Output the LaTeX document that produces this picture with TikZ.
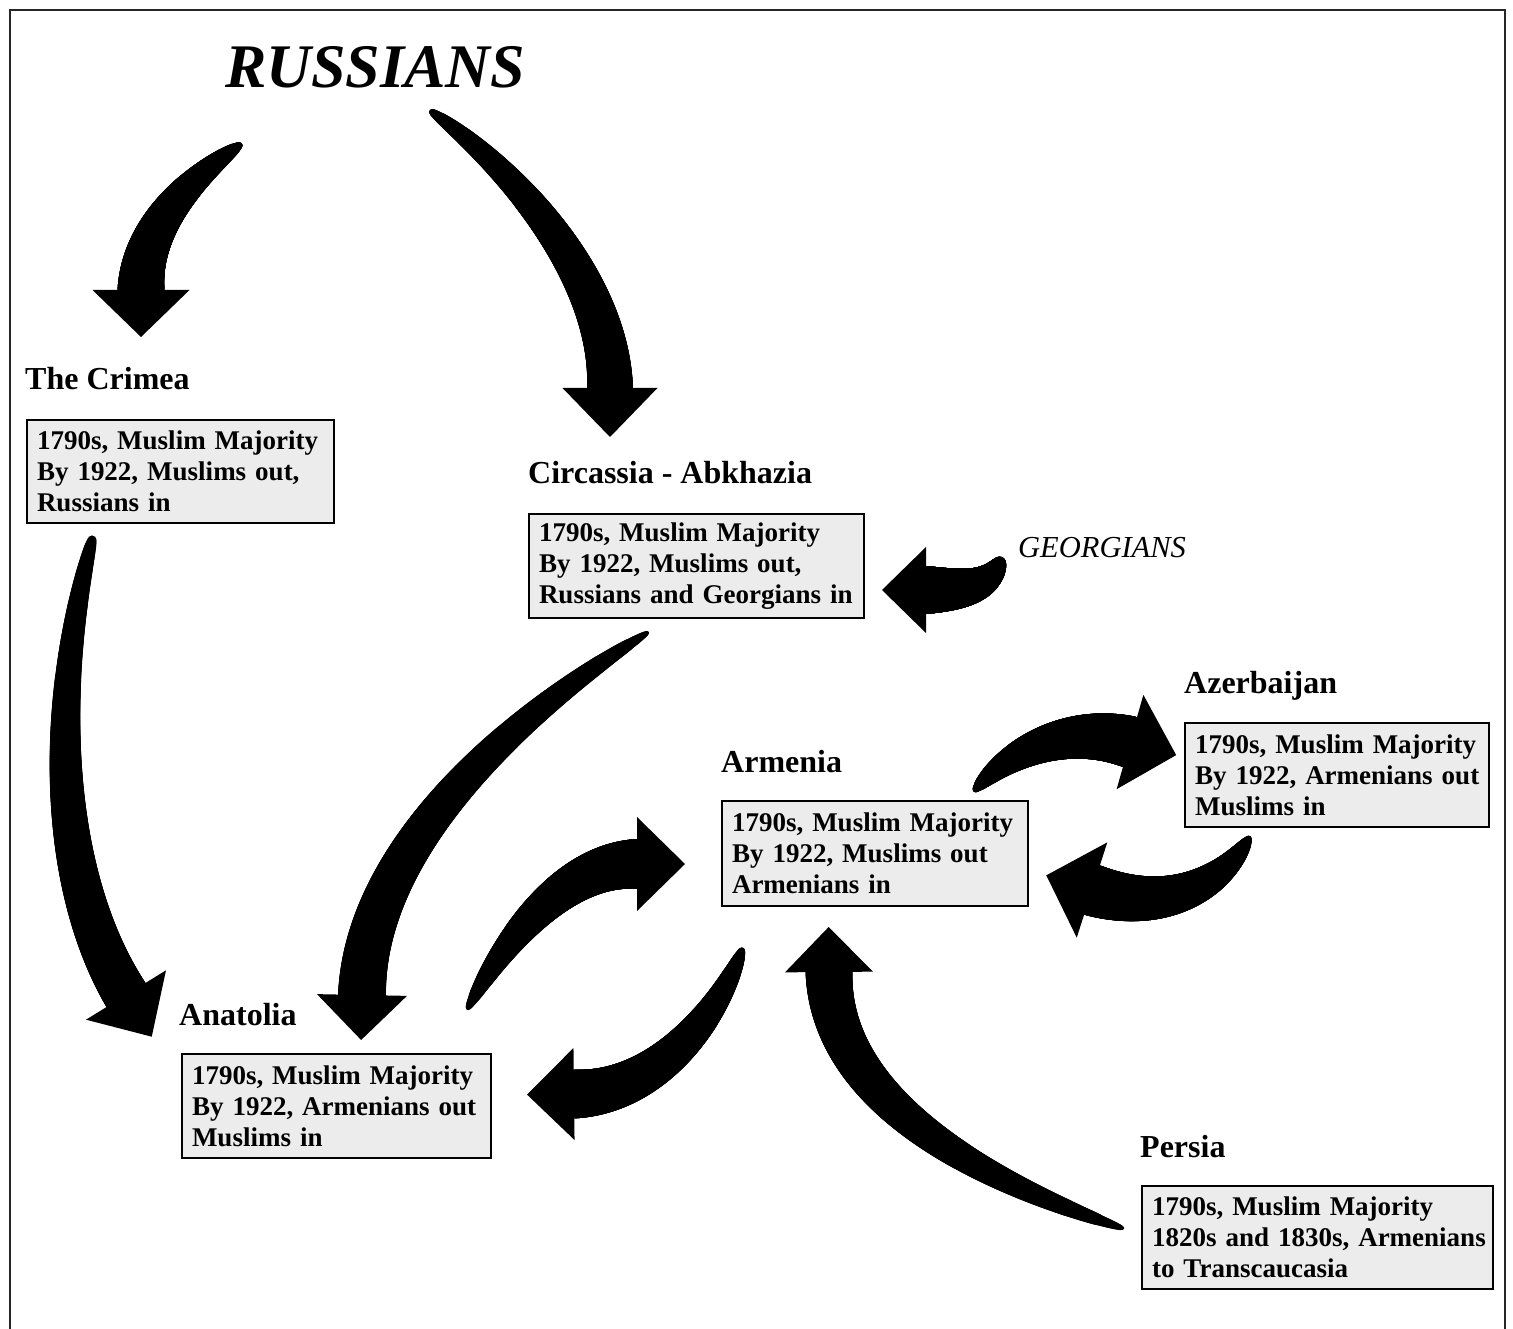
\documentclass[tikz,border=0pt]{standalone}
\usepackage{fontspec}
\setmainfont{Liberation Serif}
\usetikzlibrary{calc}
\tikzset{
  dot/.style={circle, fill=black, draw=none, inner sep=0pt, outer sep=0pt},
  infobox/.style={draw=black, line width=2pt, fill=gray!15, anchor=north west,
    inner xsep=10pt, inner ysep=0pt, align=left,
    font=\bfseries\fontsize{27}{31}\selectfont},
  place/.style={anchor=base west, inner sep=0pt, font=\bfseries\fontsize{32}{36}\selectfont},
  frameline/.style={line width=2pt, draw=black!85}
}
% tapered curved arrow: start, control1, control2, head base, tail width, end width, head half-width, head length
\newcommand{\tarrow}[8]{%
  \path (#1) .. controls (#2) and (#3) .. (#4)
    foreach \pp in {0,0.004,...,1.0001}{ node[dot, pos=\pp, minimum size={(#5+(#6-#5)*pow(\pp+0.0001,0.6))*1pt}]{} };
  \fill[black] ($(#4)!#7pt!90:(#3)$) -- ($(#4)!-#8pt!(#3)$) -- ($(#4)!#7pt!-90:(#3)$) -- cycle;
}
\begin{document}
\begin{tikzpicture}[x=1pt,y=-1pt]
\useasboundingbox (0,0) rectangle (1513,1329);
% frame
\coordinate (fbl) at (10,1329);
\coordinate (ftl) at (10,10);
\coordinate (ftr) at (1505,10);
\coordinate (fbr) at (1505,1329);
\draw[frameline] (fbl) -- (ftl) -- (ftr) -- (fbr);

% titles
\node[anchor=base west, inner sep=0pt, font=\bfseries\itshape\fontsize{62}{66}\selectfont] (russians) at (225,88) {RUSSIANS};
\node[anchor=base west, inner sep=0pt, font=\itshape\fontsize{30.5}{34}\selectfont] (georgians) at (1018,557) {GEORGIANS};

% place labels
\node[place] (crimeal) at (25,390) {The Crimea};
\node[place] (circl) at (528,483) {Circassia - Abkhazia};
\node[place] (armenial) at (721,772) {Armenia};
\node[place] (azerl) at (1184,693) {Azerbaijan};
\node[place] (anatolial) at (179,1025) {Anatolia};
\node[place] (persial) at (1140,1157) {Persia};

% boxes
\node[infobox, minimum width=307pt, text width=287pt, minimum height=103pt] (crimea) at (26,419)
  {\mbox{1790s, Muslim Majority}\\\mbox{By 1922, Muslims out,}\\\mbox{Russians in}};
\node[infobox, minimum width=335pt, text width=315pt, minimum height=104pt] (circ) at (528,513)
  {\mbox{1790s, Muslim Majority}\\\mbox{By 1922, Muslims out,}\\\mbox{Russians and Georgians in}};
\node[infobox, minimum width=306pt, text width=286pt, minimum height=105pt] (armenia) at (721,800)
  {\mbox{1790s, Muslim Majority}\\\mbox{By 1922, Muslims out}\\\mbox{Armenians in}};
\node[infobox, minimum width=304pt, text width=284pt, minimum height=104pt] (azer) at (1184,722)
  {\mbox{1790s, Muslim Majority}\\\mbox{By 1922, Armenians out}\\\mbox{Muslims in}};
\node[infobox, minimum width=309pt, text width=289pt, minimum height=104pt] (anatolia) at (181,1053)
  {\mbox{1790s, Muslim Majority}\\\mbox{By 1922, Armenians out}\\\mbox{Muslims in}};
\node[infobox, minimum width=351pt, text width=331pt, minimum height=103pt] (persia) at (1141,1185)
  {\mbox{1790s, Muslim Majority}\\\mbox{1820s and 1830s, Armenians}\\\mbox{to Transcaucasia}};

% arrow coordinates
\coordinate (a1s) at (240,145);  \coordinate (a1c) at (195,175);  \coordinate (a1d) at (141,225);  \coordinate (a1b) at (141,290);
\coordinate (a2s) at (432,112);  \coordinate (a2c) at (515,170);  \coordinate (a2d) at (610,280);  \coordinate (a2b) at (610,388);
\coordinate (a3s) at (1000,562); \coordinate (a3c) at (988,588);  \coordinate (a3d) at (962,590);  \coordinate (a3b) at (926,590);
\coordinate (a4s) at (92,540);   \coordinate (a4c) at (50,700);   \coordinate (a4d) at (55,880);   \coordinate (a4b) at (126,995);
\coordinate (a5s) at (647,633);  \coordinate (a5c) at (530,705);  \coordinate (a5d) at (365,840);  \coordinate (a5b) at (362,995);
\coordinate (a6s) at (468,1008); \coordinate (a6c) at (510,930);  \coordinate (a6d) at (570,864);  \coordinate (a6b) at (637,864);
\coordinate (a7s) at (742,950);  \coordinate (a7c) at (720,1010); \coordinate (a7d) at (660,1093); \coordinate (a7b) at (574,1094);
\coordinate (a8s) at (975,790);  \coordinate (a8c) at (1010,750); \coordinate (a8d) at (1070,725); \coordinate (a8b) at (1130,742);
\coordinate (a9s) at (1249,838); \coordinate (a9c) at (1225,880); \coordinate (a9d) at (1170,915); \coordinate (a9b) at (1092,890);
\coordinate (a10s) at (1122,1228); \coordinate (a10c) at (980,1180); \coordinate (a10d) at (830,1100); \coordinate (a10b) at (829,972);

\tarrow{a1s}{a1c}{a1d}{a1b}{5}{47}{48.5}{47}
\tarrow{a2s}{a2c}{a2d}{a2b}{6}{46}{47.5}{49}
\tarrow{a3s}{a3c}{a3d}{a3b}{10}{48}{43}{44}
\tarrow{a4s}{a4c}{a4d}{a4b}{9}{46}{47}{49}
\tarrow{a5s}{a5c}{a5d}{a5b}{4}{48}{45}{45}
\tarrow{a6s}{a6c}{a6d}{a6b}{4}{50}{47}{48}
\tarrow{a7s}{a7c}{a7d}{a7b}{5}{49}{46}{47}
\tarrow{a8s}{a8c}{a8d}{a8b}{4}{52}{49}{48}
\tarrow{a9s}{a9c}{a9d}{a9b}{4}{52}{50}{48}
\tarrow{a10s}{a10c}{a10d}{a10b}{4}{47}{44}{45}
\end{tikzpicture}
\end{document}
